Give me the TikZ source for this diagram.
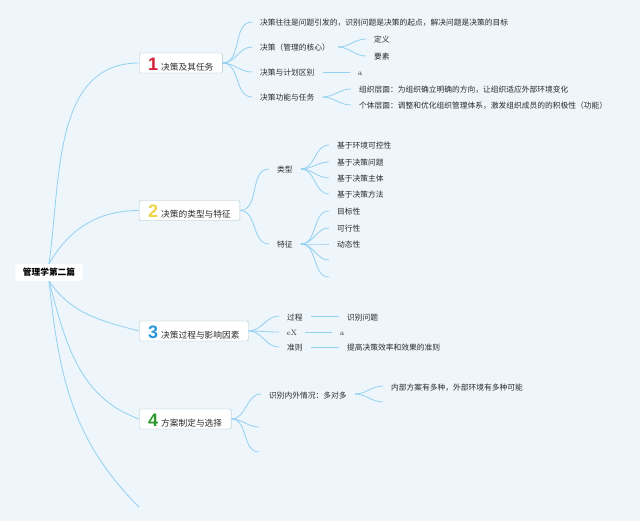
\documentclass[tikz,border=0pt]{standalone}
\usepackage{fontspec}
\usepackage{tikz}
\newfontfamily\cjk{Noto Sans CJK SC}
\newfontfamily\numfont{Liberation Sans}
\definecolor{bg}{HTML}{EEF5FB}
\definecolor{branch}{HTML}{92D1F0}
\definecolor{boxline}{HTML}{A9C2CA}
\definecolor{ink}{HTML}{2B2B2B}
\definecolor{num1}{HTML}{D0203A}
\definecolor{num2}{HTML}{F0D448}
\definecolor{num3}{HTML}{2896DC}
\definecolor{num4}{HTML}{2E9A2E}
\newcommand\topicnum[2]{{\numfont\bfseries\fontsize{18}{18}\selectfont\color{#1}#2}\hspace{3pt}}

\begin{document}
\begin{tikzpicture}[x=1pt, y=1pt,
    line/.style={draw=branch, line width=0.8pt},
    leaf/.style={anchor=west, inner xsep=8pt, inner ysep=1pt, text height=8.5pt, text depth=0.5pt,
        text=ink, font=\cjk\fontsize{7.75}{9}\selectfont},
    topic/.style={anchor=west, draw=boxline, fill=white, rounded corners=1.5pt, minimum height=20pt,
        inner xsep=9pt, inner ysep=0pt, text height=16pt, text depth=1pt, text=ink, font=\cjk\fontsize{8.7}{10}\selectfont}]
    \fill[bg] (0,0) rectangle (640,-521);
    \useasboundingbox (0,0) rectangle (640,-521);

    \node[fill=white, rounded corners=2pt, inner xsep=7.5pt, minimum height=17pt, text=black,
        font=\cjk\bfseries\fontsize{8.7}{10}\selectfont] (root) at (49,-272.5) {管理学第二篇};

    \node[topic] (b1) at (139,-63) {\topicnum{num1}{1}决策及其任务};
    \node[topic] (b2) at (139,-210.5) {\topicnum{num2}{2}决策的类型与特征};
    \node[topic] (b3) at (139,-331) {\topicnum{num3}{3}决策过程与影响因素};
    \node[topic] (b4) at (139,-419) {\topicnum{num4}{4}方案制定与选择};
    \coordinate (b5) at (139,-507);

    \draw[line] (root.north) to[out=82, in=180] (b1.west);
    \draw[line] (root.north) to[out=60, in=180] (b2.west);
    \draw[line] (root.south) to[out=-55, in=165] (b3.west);
    \draw[line] (root.south) to[out=-75, in=160] (b4.west);
    \draw[line] (root.south) to[out=-84, in=135] (b5);

    % 1
    \node[leaf] (b1a) at (252,-22) {决策往往是问题引发的，识别问题是决策的起点，解决问题是决策的目标};
    \node[leaf] (b1b) at (252,-47) {决策（管理的核心）};
    \node[leaf] (b1b1) at (366,-39) {定义};
    \node[leaf] (b1b2) at (366,-56) {要素};
    \node[leaf] (b1c) at (252,-72) {决策与计划区别};
    \node[leaf, font=\rmfamily\fontsize{7.75}{9}\selectfont] (b1c1) at (350,-72) {a};
    \node[leaf] (b1d) at (252,-97) {决策功能与任务};
    \node[leaf] (b1d1) at (351,-89) {组织层面：为组织确立明确的方向，让组织适应外部环境变化};
    \node[leaf] (b1d2) at (351,-105) {个体层面：调整和优化组织管理体系，激发组织成员的的积极性（功能）};
    \foreach \c in {b1a, b1b, b1c, b1d}
        \draw[line] (b1.east) to[out=0, in=180] (\c.west);
    \draw[line] (b1b.east) to[out=0, in=180] (b1b1.west);
    \draw[line] (b1b.east) to[out=0, in=180] (b1b2.west);
    \draw[line] (b1c.east) -- (b1c1.west);
    \draw[line] (b1d.east) to[out=0, in=180] (b1d1.west);
    \draw[line] (b1d.east) to[out=0, in=180] (b1d2.west);

    % 2
    \node[leaf] (b2a) at (269,-169) {类型};
    \node[leaf] (b2a1) at (329,-145) {基于环境可控性};
    \node[leaf] (b2a2) at (329,-162) {基于决策问题};
    \node[leaf] (b2a3) at (329,-178) {基于决策主体};
    \node[leaf] (b2a4) at (329,-194) {基于决策方法};
    \node[leaf] (b2b) at (269,-244) {特征};
    \node[leaf] (b2b1) at (329,-211) {目标性};
    \node[leaf] (b2b2) at (329,-228) {可行性};
    \node[leaf] (b2b3) at (329,-244) {动态性};
    \coordinate (b2b4) at (329,-260);
    \coordinate (b2b5) at (329,-277);
    \draw[line] (b2.east) to[out=0, in=180] (b2a.west);
    \draw[line] (b2.east) to[out=0, in=180] (b2b.west);
    \foreach \c in {b2a1, b2a2, b2a3, b2a4}
        \draw[line] (b2a.east) to[out=0, in=180] (\c.west);
    \foreach \c in {b2b1, b2b2, b2b3}
        \draw[line] (b2b.east) to[out=0, in=180] (\c.west);
    \draw[line] (b2b.east) to[out=0, in=180] (b2b4);
    \draw[line] (b2b.east) to[out=0, in=180] (b2b5);

    % 3
    \node[leaf] (b3a) at (279,-316) {过程};
    \node[leaf] (b3a1) at (339,-316) {识别问题};
    \node[leaf, font=\rmfamily\fontsize{7.75}{9}\selectfont] (b3b) at (279,-332) {eX};
    \node[leaf, font=\rmfamily\fontsize{7.75}{9}\selectfont] (b3b1) at (332,-332) {a};
    \node[leaf] (b3c) at (279,-347) {准则};
    \node[leaf] (b3c1) at (339,-347) {提高决策效率和效果的准则};
    \foreach \c in {b3a, b3b, b3c}
        \draw[line] (b3.east) to[out=0, in=180] (\c.west);
    \draw[line] (b3a.east) -- (b3a1.west);
    \draw[line] (b3b.east) -- (b3b1.west);
    \draw[line] (b3c.east) -- (b3c1.west);

    % 4
    \node[leaf] (b4a) at (261,-394) {识别内外情况：多对多};
    \node[leaf] (b4a1) at (383,-386) {内部方案有多种，外部环境有多种可能};
    \coordinate (b4a2) at (383,-402);
    \coordinate (b4b) at (259,-427);
    \coordinate (b4c) at (259,-452);
    \draw[line] (b4.east) to[out=0, in=180] (b4a.west);
    \draw[line] (b4.east) to[out=0, in=180] (b4b);
    \draw[line] (b4.east) to[out=0, in=180] (b4c);
    \draw[line] (b4a.east) to[out=0, in=180] (b4a1.west);
    \draw[line] (b4a.east) to[out=0, in=180] (b4a2);
\end{tikzpicture}
\end{document}
